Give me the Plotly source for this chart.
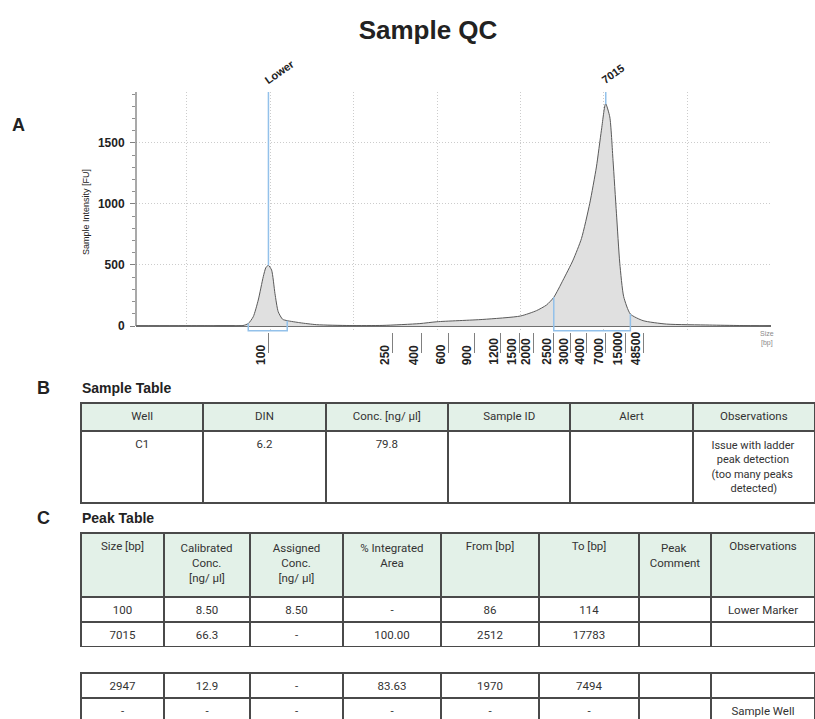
import numpy as np
import plotly.graph_objects as go

W, H = 815, 719

# ---------------- Electropherogram data (x = migration position units) ----------------
POS = [13.93, 21.6, 26.74, 27.38, 27.98, 28.58, 29.18, 29.5, 29.80, 30.18, 30.58, 30.97,
       31.50, 32.05, 33.57, 35.57, 39.56, 43.51, 47.94, 49.98, 55.49, 60.00, 61.92, 63.12,
       63.99, 65.10, 66.30, 67.31, 68.30, 69.10, 69.70, 70.20, 70.70, 71.09, 71.50, 71.90,
       72.37, 73.17, 74.69, 77.49, 82.67, 86.27, 89.98]
INTENSITY = [2, 2, 4, 20, 76, 213, 404, 480, 497, 458, 267, 117,
             55, 44, 27, 11, 4, 5, 20, 35, 54, 82, 126, 172,
             235, 376, 540, 717, 1004, 1303, 1604, 1822, 1713, 1358, 924, 515,
             240, 98, 44, 16, 8, 4, 1]

LADDER_BP = [100, 250, 400, 600, 900, 1200, 1500, 2000, 2500, 3000, 4000, 7000, 15000, 48500]
LADDER_POS = [29.80, 44.67, 48.18, 51.33, 54.53, 57.64, 59.83, 61.51, 63.99, 66.03,
              67.94, 70.22, 72.61, 74.77]

PEAK_LABELS = ["Lower", "7015"]
PEAK_POS = [29.80, 70.22]
PEAK_FROM_POS = [27.38, 63.99]
PEAK_TO_POS = [32.05, 73.17]

# ---------------- Tables ----------------
NB = "\u00a0"


def pad(s, n):
    return NB * n + s + NB * n


SAMPLE_HEADERS = ["Well", "DIN", "Conc. [ng/ µl]", "Sample ID", "Alert", "Observations"]
SAMPLE_ROWS = [["C1", "6.2", "79.8", "", "",
                "<br>".join(["Issue with ladder", pad("peak detection", 2),
                             "(too many peaks", pad("detected)", 7)])]]

PEAK_HEADERS = ["Size [bp]",
                "<br>".join(["Calibrated", pad("Conc.", 4), pad("[ng/ µl]", 3)]),
                "<br>".join(["Assigned", pad("Conc.", 3), pad("[ng/ µl]", 2)]),
                "<br>".join(["% Integrated", pad("Area", 7)]),
                "From [bp]", "To [bp]",
                "<br>".join([pad("Peak", 4), "Comment"]),
                "Observations"]
PEAK_ROWS = [["100", "8.50", "8.50", "-", "86", "114", "", "Lower Marker"],
             ["7015", "66.3", "-", "100.00", "2512", "17783", "", ""]]
REGION_ROWS = [["2947", "12.9", "-", "83.63", "1970", "7494", "", ""],
               ["-", "-", "-", "-", "-", "-", "", "Sample Well"]]

# ---------------- styling constants ----------------
X_RANGE = [13.93, 90.02]
Y_RANGE = [-49, 1917]
BRACKET_Y = -38
BLUE = "#93c1ea"
AXIS_FONT = "Liberation Sans"
TABLE_FONT = "Roboto"
HEADER_FILL = "#e3f1e8"
BORDER = "#4a4a4a"
GRID_DASH = "1px,2px"


def px(x):
    return x / W


def py(y):
    return 1 - y / H


fig = go.Figure()

fig.add_trace(go.Scatter(
    x=POS, y=INTENSITY, mode="lines",
    line=dict(color="#5a5a5a", width=1, shape="spline", smoothing=0.6),
    fill="tozeroy", fillcolor="#e0e0e0",
    hoverinfo="skip", showlegend=False,
))

shapes = []
annotations = []

# y axis line (from 0 upward)
shapes.append(dict(type="line", xref="x domain", yref="y", x0=0, x1=0,
                   y0=0, y1=Y_RANGE[1], line=dict(color="#707070", width=1.2), layer="above"))

peak_heights = np.interp(PEAK_POS, POS, INTENSITY)
for lab, p, h in zip(PEAK_LABELS, PEAK_POS, peak_heights):
    shapes.append(dict(type="line", xref="x", yref="y", x0=p, x1=p, y0=h, y1=Y_RANGE[1],
                       line=dict(color=BLUE, width=1.5), layer="above"))
    annotations.append(dict(x=p, y=py(92), xref="x", yref="paper", text=lab, showarrow=False,
                            textangle=-35, xanchor="left", yanchor="bottom", xshift=-9, yshift=3,
                            font=dict(family=AXIS_FONT, size=11, color="#222", weight="bold")))

for f, t in zip(PEAK_FROM_POS, PEAK_TO_POS):
    yf = float(np.interp(f, POS, INTENSITY))
    yt = float(np.interp(t, POS, INTENSITY))
    shapes.append(dict(type="path", xref="x", yref="y",
                       path=f"M {f},{yf} L {f},{BRACKET_Y} L {t},{BRACKET_Y} L {t},{yt}",
                       line=dict(color=BLUE, width=1.5), layer="above"))

# ladder tick labels, rotated, left of the tick marks, bottom-aligned
for bp, p in zip(LADDER_BP, LADDER_POS):
    annotations.append(dict(x=p, y=py(366), xref="x", yref="paper", text=str(bp),
                            showarrow=False, textangle=-90, xanchor="center", yanchor="bottom",
                            xshift=-7.5, borderpad=0,
                            font=dict(family=AXIS_FONT, size=12, color="#222", weight="bold")))

annotations.append(dict(x=px(767), y=py(338), xref="paper", yref="paper", text="Size<br>[bp]",
                        showarrow=False, xanchor="center", yanchor="middle",
                        font=dict(family=AXIS_FONT, size=7, color="#8a8a8a")))

# panel letters and table titles
for letter, x, y in [("A", 18.5, 125), ("B", 43, 388), ("C", 43, 518)]:
    annotations.append(dict(x=px(x), y=py(y), xref="paper", yref="paper", text=letter,
                            showarrow=False, xanchor="center", yanchor="middle",
                            font=dict(family=AXIS_FONT, size=18, color="#222", weight="bold")))
for txt, y in [("Sample Table", 388), ("Peak Table", 518)]:
    annotations.append(dict(x=px(80), y=py(y), xref="paper", yref="paper", text=txt,
                            showarrow=False, xanchor="left", yanchor="middle",
                            font=dict(family=AXIS_FONT, size=14, color="#222", weight="bold")))


def cols(rows):
    return [list(c) for c in zip(*rows)]


tfont = dict(family=TABLE_FONT, size=11.5, color="#333")
tline = dict(color=BORDER, width=2)

fig.add_trace(go.Table(
    domain=dict(x=[px(81), 1], y=[py(510), py(403)]),
    columnwidth=[1] * 6,
    header=dict(values=SAMPLE_HEADERS, fill_color=HEADER_FILL, line=tline,
                align="center", font=tfont, height=28),
    cells=dict(values=cols(SAMPLE_ROWS), fill_color="white", line=tline,
               align="center", height=64,
               font=dict(family=TABLE_FONT, size=[11.5] * 5 + [11], color="#333")),
))

PEAK_COLW = [83, 86, 93, 98, 98, 100, 72, 104]
fig.add_trace(go.Table(
    domain=dict(x=[px(81), 1], y=[py(648), py(533)]),
    columnwidth=PEAK_COLW,
    header=dict(values=PEAK_HEADERS, fill_color=HEADER_FILL, line=tline,
                align="center", font=tfont, height=64),
    cells=dict(values=cols(PEAK_ROWS), fill_color="white", line=tline,
               align="center", font=tfont, height=25),
))

fig.add_trace(go.Table(
    domain=dict(x=[px(81), 1], y=[0, py(673)]),
    columnwidth=PEAK_COLW,
    header=dict(values=REGION_ROWS[0], fill_color="white", line=tline,
                align="center", font=tfont, height=25),
    cells=dict(values=cols(REGION_ROWS[1:]), fill_color="white", line=tline,
               align="center", font=tfont, height=25),
))

fig.update_layout(
    width=W, height=H, margin=dict(l=0, r=0, t=0, b=0),
    paper_bgcolor="white", plot_bgcolor="white",
    title=dict(text="<b>Sample QC</b>", x=px(428), xanchor="center", y=py(30), yanchor="middle",
               font=dict(family=AXIS_FONT, size=26, color="#222")),
    showlegend=False,
    xaxis=dict(domain=[px(136), px(771)], range=X_RANGE, showline=False, zeroline=False,
               tickmode="array", tickvals=LADDER_POS, ticktext=[str(b) for b in LADDER_BP],
               showticklabels=False, ticks="outside", ticklen=20, tickcolor="#808080", tickwidth=1,
               showgrid=False,
               minor=dict(tickmode="linear", tick0=0, dtick=10, showgrid=True, gridcolor="#cccccc",
                          griddash=GRID_DASH, gridwidth=1, ticks="")),
    yaxis=dict(domain=[py(332), py(92)], range=Y_RANGE, showline=False,
               zeroline=True, zerolinecolor="#707070", zerolinewidth=1.5,
               tickmode="linear", tick0=0, dtick=500, ticks="outside", ticklen=5,
               tickcolor="#808080", ticklabelstandoff=3,
               tickfont=dict(family=AXIS_FONT, size=12, color="#222", weight="bold"),
               showgrid=True, gridcolor="#cccccc", griddash=GRID_DASH,
               minor=dict(tick0=0, dtick=100, ticks="outside", ticklen=3, tickcolor="#909090",
                          showgrid=False),
               title=dict(text="Sample Intensity [FU]", standoff=6,
                          font=dict(family=AXIS_FONT, size=9, color="#222"))),
    shapes=shapes, annotations=annotations,
)

fig.write_html("out.html")
